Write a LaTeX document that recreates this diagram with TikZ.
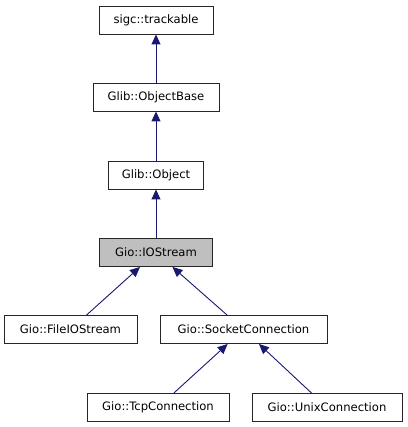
\documentclass[tikz,border=0pt]{standalone}
\usepackage{fontspec}
\setmainfont{DejaVu Sans}
\usetikzlibrary{arrows.meta}
\definecolor{edgeblue}{RGB}{25,25,112}
\definecolor{boxgray}{RGB}{191,191,191}
\tikzset{
  cls/.style={draw=black!85, line width=0.9pt, fill=white, inner sep=0pt,
    minimum height=28pt, font=\fontsize{11.6}{13}\selectfont, text=black},
  cur/.style={cls, fill=boxgray},
  inh/.style={draw=edgeblue, line width=0.9pt,
    -{Triangle[length=10pt,width=9pt,fill=edgeblue]}}
}
\begin{document}
\begin{tikzpicture}[x=1pt,y=-1pt]
\useasboundingbox (0,0) rectangle (407,427);
\node[cls, minimum width=114pt] (trk) at (156,20) {sigc::trackable};
\node[cls, minimum width=126pt] (ob) at (156,97) {Glib::ObjectBase};
\node[cls, minimum width=95pt] (obj) at (156,175) {Glib::Object};
\node[cur, minimum width=113pt] (ios) at (156,252.5) {Gio::IOStream};
\node[cls, minimum width=133pt] (fio) at (70.5,329.5) {Gio::FileIOStream};
\node[cls, minimum width=167pt] (sc) at (243.5,329.5) {Gio::SocketConnection};
\node[cls, minimum width=142pt] (tcp) at (158,407.5) {Gio::TcpConnection};
\node[cls, minimum width=150pt] (unix) at (327,407.5) {Gio::UnixConnection};
\draw[inh] (ob) -- (trk);
\draw[inh] (obj) -- (ob);
\draw[inh] (ios) -- (obj);
\draw[inh] (fio) -- (ios);
\draw[inh] (sc) -- (ios);
\draw[inh] (tcp) -- (sc);
\draw[inh] (unix) -- (sc);
\end{tikzpicture}
\end{document}
